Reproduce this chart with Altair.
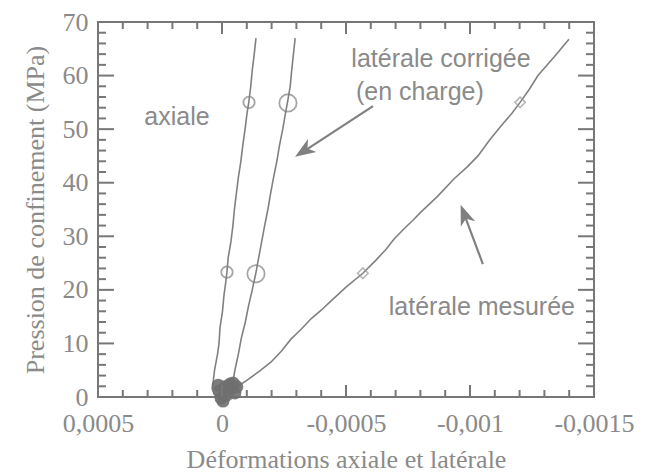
import altair as alt
import pandas as pd

# ---- data (strain, pressure MPa) ----
axial_p = [0.0, 0.6, 1.5, 3, 5, 8, 10, 13, 16, 19, 21, 23.3, 26, 29, 32, 35, 38, 41, 44, 47, 50, 53, 55, 58, 61, 64, 67]
axial_e = [0.0, 0.00003, 0.00004, 0.000035, 0.00003, 0.000018, 0.000012, 0.000008, -0.000002, -0.000008,
           -0.000014, -0.00002, -0.000025, -0.000036, -0.000044, -0.00005, -0.000058, -0.000066, -0.000076,
           -0.000084, -0.000093, -0.000101, -0.000108, -0.000116, -0.000122, -0.00013, -0.000137]

corr_p = [0, 1, 2.8, 5, 8, 11, 14, 17, 20, 23, 26, 29, 32, 35, 38, 41, 44, 47, 50, 53, 55, 58, 61, 64, 67]
corr_e = [-0.000005, -0.00002, -0.000044, -0.000052, -0.000066, -0.000078, -0.000094, -0.000107, -0.000122,
          -0.000136, -0.000148, -0.00016, -0.000172, -0.000185, -0.000196, -0.000208, -0.000221, -0.000232,
          -0.000245, -0.000256, -0.000264, -0.000275, -0.000281, -0.000288, -0.000295]

meas_p = [0, 1.2, 2.4, 3, 4.8, 6.5, 8.6, 10.8, 12.7, 14.6, 16.2, 17.9, 20.5, 23.1, 25.5, 27.5, 29.5, 31.4,
          33, 34.5, 37.5, 40.7, 43, 45, 48, 50.6, 53, 55, 57.5, 60, 63.5, 66.8]
meas_e = [-0.00001, -0.00005, -0.000077, -0.000097, -0.00015, -0.000197, -0.00024, -0.000278, -0.00032,
          -0.000359, -0.0004, -0.000439, -0.0005, -0.000568, -0.00062, -0.00066, -0.000694, -0.000734,
          -0.00077, -0.000802, -0.00087, -0.000935, -0.00099, -0.001032, -0.00108, -0.001125, -0.00117,
          -0.001202, -0.00124, -0.001274, -0.00134, -0.001399]

axial_mk_e = [-0.00002, -0.000109]
axial_mk_p = [23.3, 55]
corr_mk_e = [-0.000137, -0.000266]
corr_mk_p = [23.0, 54.9]
meas_mk_e = [-0.000568, -0.001202]
meas_mk_p = [23.1, 55]

blob_e = [0.000012, -0.000012, -0.000036, -0.000052, -0.00002, 0.000004, -0.000004, -0.00006, -0.000032,
          -0.000045, 0.000015]
blob_p = [1.1, 1.9, 1.5, 0.75, 0.4, -0.2, -0.75, 1.9, 2.4, 2.6, 2.2]

x_major = [0.0005, 0, -0.0005, -0.001, -0.0015]
x_minor = [0.0004, 0.0003, 0.0002, 0.0001, -0.0001, -0.0002, -0.0003, -0.0004,
           -0.0006, -0.0007, -0.0008, -0.0009, -0.0011, -0.0012, -0.0013, -0.0014]
y_major = [0, 10, 20, 30, 40, 50, 60, 70]
y_minor = [2, 4, 6, 8, 12, 14, 16, 18, 22, 24, 26, 28, 32, 34, 36, 38, 42, 44, 46, 48,
           52, 54, 56, 58, 62, 64, 66, 68]

labels_text = ["axiale", "latérale corrigée", "(en charge)", "latérale mesurée"]
labels_e = [0.00005, -0.000883, -0.000798, -0.001048]
labels_p = [52.3, 63.1, 56.9, 16.8]
labels_align = ["right", "center", "center", "center"]

arrow_e = [-0.000609, -0.001052]
arrow_p = [54.3, 24.8]
arrow_e2 = [-0.000331, -0.000976]
arrow_p2 = [45.9, 34.2]
head_e = [-0.000329, -0.000977]
head_p = [45.9, 34.1]
head_angle = [237, 339]

W, H = 496, 375
GRAY = "#808080"
TXT = "#8a8a8a"

xs = alt.Scale(domain=[-0.0015, 0.0005], reverse=True, nice=False, zero=False)
ys = alt.Scale(domain=[0, 70], nice=False, zero=False)

X = alt.X("e:Q", scale=xs, title="Déformations axiale et latérale",
          axis=alt.Axis(values=x_major, labelExpr="replace(toString(datum.value), '.', ',')",
                        grid=False, domain=False, ticks=False, labelPadding=13, titlePadding=10,
                        labelFlush=False, labelOverlap=False))
Y = alt.Y("p:Q", scale=ys, title="Pression de confinement (MPa)",
          axis=alt.Axis(values=y_major, grid=False, domain=False, ticks=False,
                        labelPadding=10, titlePadding=14))

def df(e, p):
    return pd.DataFrame({"e": e, "p": p})

lines = []
for e, p in [(axial_e, axial_p), (corr_e, corr_p), (meas_e, meas_p)]:
    lines.append(alt.Chart(df(e, p)).mark_line(color=GRAY, strokeWidth=1.6).encode(
        x=X, y=Y, order="p:Q"))

blob = alt.Chart(df(blob_e, blob_p)).mark_point(
    shape="circle", filled=True, color="#6f6f6f", size=170, opacity=0.9).encode(x=X, y=Y)

mk_axial = alt.Chart(df(axial_mk_e, axial_mk_p)).mark_point(
    shape="circle", filled=False, color=GRAY, size=130, strokeWidth=1.8).encode(x=X, y=Y)
mk_corr = alt.Chart(df(corr_mk_e, corr_mk_p)).mark_point(
    shape="circle", filled=False, color=GRAY, size=300, strokeWidth=1.8).encode(x=X, y=Y)
mk_meas = alt.Chart(df(meas_mk_e, meas_mk_p)).mark_point(
    shape="diamond", filled=False, color="#999999", size=110, strokeWidth=1.6).encode(x=X, y=Y)

def ticks_x(vals, length, top):
    d = pd.DataFrame({"e": vals})
    if top:
        yv, y2v = alt.value(0), alt.value(length)
    else:
        yv, y2v = alt.value(H), alt.value(H - length)
    return alt.Chart(d).mark_rule(color="#777777", strokeWidth=2).encode(
        x=alt.X("e:Q", scale=xs), y=yv, y2=y2v)

def ticks_y(vals, length, right):
    d = pd.DataFrame({"p": vals})
    if right:
        xv, x2v = alt.value(W), alt.value(W - length)
    else:
        xv, x2v = alt.value(0), alt.value(length)
    return alt.Chart(d).mark_rule(color="#777777", strokeWidth=2).encode(
        y=alt.Y("p:Q", scale=ys), x=xv, x2=x2v)

tick_layers = [
    ticks_x(x_major, 12, False), ticks_x(x_minor, 7, False),
    ticks_x(x_major, 12, True), ticks_x(x_minor, 7, True),
    ticks_y(y_major, 16, False), ticks_y(y_minor, 8, False),
    ticks_y(y_major, 16, True), ticks_y(y_minor, 8, True),
]

lab_df = pd.DataFrame({"e": labels_e, "p": labels_p, "t": labels_text, "a": labels_align})
txt_right = alt.Chart(lab_df[lab_df.a == "right"]).mark_text(
    align="right", baseline="middle", font="Liberation Sans", fontSize=25, color=TXT).encode(
    x=X, y=Y, text="t:N")
txt_center = alt.Chart(lab_df[lab_df.a == "center"]).mark_text(
    align="center", baseline="middle", font="Liberation Sans", fontSize=25, color=TXT).encode(
    x=X, y=Y, text="t:N")

arr_df = pd.DataFrame({"e": arrow_e, "p": arrow_p, "e2": arrow_e2, "p2": arrow_p2})
shafts = alt.Chart(arr_df).mark_rule(color=GRAY, strokeWidth=2.2).encode(
    x=X, y=Y, x2="e2:Q", y2="p2:Q")

HEAD = "M0,-1L0.75,1L0,0.45L-0.75,1Z"
heads = []
for e, p, a in zip(head_e, head_p, head_angle):
    heads.append(alt.Chart(df([e], [p])).mark_point(
        shape=HEAD, filled=True, color=GRAY, size=420, angle=a, opacity=1).encode(x=X, y=Y))

chart = alt.layer(
    *lines, blob, mk_axial, mk_corr, mk_meas, *tick_layers, txt_right, txt_center, shafts, *heads
).properties(
    width=W, height=H, padding={"left": 14, "top": 1, "right": 5, "bottom": 5}
).configure_view(
    stroke="#777777", strokeWidth=2
).configure_axis(
    labelFont="Liberation Serif", labelFontSize=26, labelColor=TXT,
    titleFont="Liberation Serif", titleFontSize=26, titleColor=TXT, titleFontWeight="normal"
)

chart.save("out.html", embed_options={"renderer": "svg", "actions": False})
